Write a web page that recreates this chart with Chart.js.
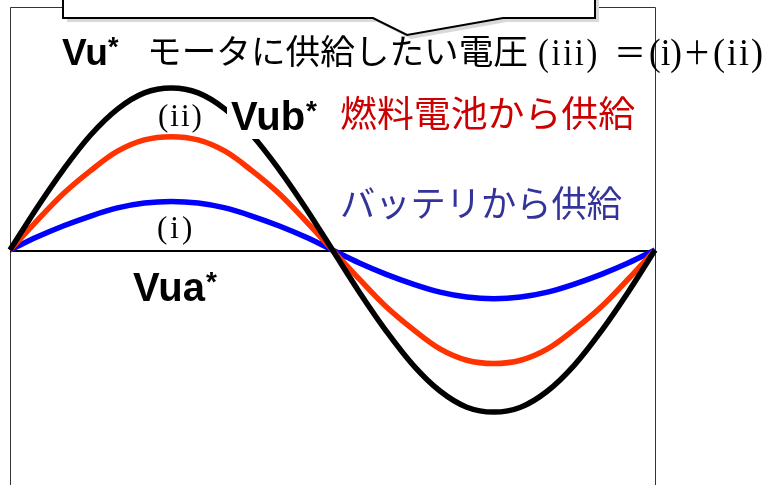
<!DOCTYPE html>
<html>
<head>
<meta charset="utf-8">
<script src="https://cdn.jsdelivr.net/npm/chart.js@4.4.0/dist/chart.umd.min.js"></script>
<style>
  html, body { margin: 0; padding: 0; background: #fff; }
</style>
</head>
<body>
<canvas id="graph1" width="770" height="485"></canvas>
<script>
// electrical angle of the phase-u command (deg)
var angle = [0, 15, 30, 45, 60, 75, 90, 105, 120, 135, 150, 165, 180,
             195, 210, 225, 240, 255, 270, 285, 300, 315, 330, 345, 360];
// (i) Vua* battery share
var vua = [0, 0.08, 0.15, 0.21, 0.26, 0.29, 0.30, 0.29, 0.26, 0.21, 0.15, 0.08, 0,
           -0.08, -0.15, -0.21, -0.26, -0.29, -0.30, -0.29, -0.26, -0.21, -0.15, -0.08, 0];
// (ii) Vub* fuel cell share
var vub = [0, 0.18, 0.35, 0.49, 0.61, 0.68, 0.70, 0.68, 0.61, 0.49, 0.35, 0.18, 0,
           -0.18, -0.35, -0.49, -0.61, -0.68, -0.70, -0.68, -0.61, -0.49, -0.35, -0.18, 0];
// (iii) Vu* total = (i) + (ii)
var vu = [0, 0.26, 0.50, 0.71, 0.87, 0.97, 1.00, 0.97, 0.87, 0.71, 0.50, 0.26, 0,
          -0.26, -0.50, -0.71, -0.87, -0.97, -1.00, -0.97, -0.87, -0.71, -0.50, -0.26, 0];

function pts(arr) {
  return arr.map(function (v, i) { return { x: angle[i], y: v }; });
}

var JP = '"Noto Sans CJK JP"';
var SANS = '"Liberation Sans", Arial';
var SERIF = '"Liberation Serif", "Times New Roman"';

function txt(ctx, s, x, y, font, color, w, sp) {
  ctx.font = font;
  ctx.fillStyle = color;
  ctx.textBaseline = 'alphabetic';
  ctx.textAlign = 'left';
  ctx.letterSpacing = sp || '0px';
  if (w) {
    var m = ctx.measureText(s).width;
    ctx.save();
    ctx.translate(x, y);
    ctx.scale(w / m, 1);
    ctx.fillText(s, 0, 0);
    ctx.restore();
  } else {
    ctx.fillText(s, x, y);
  }
  ctx.letterSpacing = '0px';
}

// frame, zero line and the note box drawn under the curves
var underlay = {
  id: 'underlay',
  beforeDatasetsDraw: function (chart) {
    var ctx = chart.ctx, a = chart.chartArea;
    var y0 = chart.scales.y.getPixelForValue(0);
    ctx.save();
    ctx.strokeStyle = '#333';
    ctx.lineWidth = 1;
    ctx.beginPath();
    ctx.moveTo(a.left + 0.5, a.bottom + 5);
    ctx.lineTo(a.left + 0.5, a.top + 0.5);
    ctx.lineTo(a.right + 0.5, a.top + 0.5);
    ctx.lineTo(a.right + 0.5, a.bottom + 5);
    ctx.stroke();
    ctx.strokeStyle = '#000';
    ctx.lineWidth = 2;
    ctx.beginPath();
    ctx.moveTo(a.left, y0 + 1);
    ctx.lineTo(a.right, y0 + 1);
    ctx.stroke();
    ctx.restore();
  },
  afterDatasetsDraw: function (chart) {
    var ctx = chart.ctx;
    ctx.save();
    // callout box with shadow
    function shape(dx, dy) {
      ctx.beginPath();
      ctx.moveTo(63 + dx, -10 + dy);
      ctx.lineTo(595 + dx, -10 + dy);
      ctx.lineTo(595 + dx, 18 + dy);
      ctx.lineTo(503 + dx, 18 + dy);
      ctx.lineTo(407 + dx, 35 + dy);
      ctx.lineTo(373 + dx, 18 + dy);
      ctx.lineTo(63 + dx, 18 + dy);
      ctx.closePath();
    }
    ctx.fillStyle = '#d9d9d9';
    shape(4, 4);
    ctx.fill();
    ctx.fillStyle = '#fff';
    shape(0, 0);
    ctx.fill();
    ctx.strokeStyle = '#000';
    ctx.lineWidth = 2;
    ctx.stroke();

    // title line
    txt(ctx, 'Vu', 62, 65, 'bold 37px ' + SANS, '#000', 46);
    txt(ctx, '*', 108, 56, 'bold 27px ' + SANS, '#000');
    txt(ctx, 'モータに供給したい電圧', 147, 64, '34px ' + JP, '#000', 381);
    txt(ctx, '(iii)', 538, 65, '37px ' + SERIF, '#000', 62, '3px');
    txt(ctx, '＝', 614, 64, '32px ' + JP, '#000');
    txt(ctx, '(i)', 649, 65, '37px ' + SERIF, '#000', 33);
    txt(ctx, '＋', 683, 64, '32px ' + JP, '#000', 28);
    txt(ctx, '(ii)', 713, 65, '37px ' + SERIF, '#000', 52, '2px');

    // curve labels
    txt(ctx, '(ii)', 158, 126, '31px ' + SERIF, '#000', null, '2px');
    ctx.fillStyle = '#fff';
    ctx.fillRect(227, 94, 96, 45);
    txt(ctx, 'Vub', 231, 130, 'bold 40px ' + SANS, '#000');
    txt(ctx, '*', 306, 120, 'bold 28px ' + SANS, '#000');
    txt(ctx, '燃料電池から供給', 340, 127, '36px ' + JP, '#cc0000', 295);
    txt(ctx, 'バッテリから供給', 340, 217, '36px ' + JP, '#333399', 282);
    txt(ctx, '(i)', 157, 238, '31px ' + SERIF, '#000', null, '3px');
    txt(ctx, 'Vua', 133, 301, 'bold 40px ' + SANS, '#000');
    txt(ctx, '*', 206, 291, 'bold 28px ' + SANS, '#000');
    ctx.restore();
  }
};

var chart = new Chart(document.getElementById('graph1').getContext('2d'), {
  type: 'line',
  data: {
    datasets: [{
      label: 'Vu*',
      data: pts(vu),
      borderColor: '#000000',
      borderWidth: 5.5,
      order: 1
    }, {
      label: 'Vub*',
      data: pts(vub),
      borderColor: '#ff3300',
      borderWidth: 5.5,
      order: 2
    }, {
      label: 'Vua*',
      data: pts(vua),
      borderColor: '#0000ff',
      borderWidth: 5.5,
      order: 3
    }]
  },
  options: {
    responsive: false,
    animation: false,
    layout: { padding: { left: 10, right: 115, top: 7, bottom: 0 } },
    elements: {
      point: { radius: 0 },
      line: { tension: 0.35, fill: false }
    },
    datasets: { line: { clip: false } },
    scales: {
      x: { type: 'linear', min: 0, max: 360, display: false },
      y: { min: -1.45, max: 1.5, display: false }
    },
    plugins: {
      legend: { display: false },
      tooltip: { enabled: false }
    }
  },
  plugins: [underlay]
});
</script>
</body>
</html>
